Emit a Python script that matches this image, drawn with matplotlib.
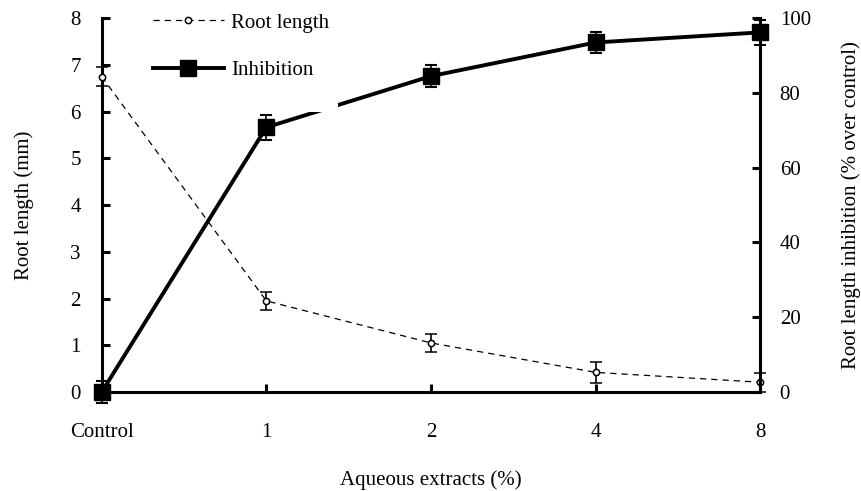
import matplotlib
matplotlib.use("Agg")
import matplotlib.pyplot as plt
from matplotlib.lines import Line2D
from matplotlib.patches import Rectangle

plt.rcParams["font.family"] = ["Liberation Serif", "DejaVu Serif"]

categories = ["Control", "1", "2", "4", "8"]
root_length = [6.75, 1.95, 1.05, 0.42, 0.21]
root_err = [0.2, 0.2, 0.2, 0.22, 0.2]
inhibition = [0.0, 70.8, 84.5, 93.5, 96.2]
inhib_err = [3.0, 3.3, 3.0, 2.8, 3.3]

x = list(range(len(categories)))

fig = plt.figure(figsize=(8.62, 4.91), dpi=100)
ax = fig.add_axes([0.118, 0.2016, 0.764, 0.7614])
ax2 = ax.twinx()

# root length on the left axis
ax.errorbar(x, root_length, yerr=root_err, fmt="o", ls=(0, (5, 4)), lw=0.9,
            color="black", mfc="white", mec="black", ms=4.5, mew=1.1,
            ecolor="black", elinewidth=1.2, capsize=4.5, capthick=1.5,
            clip_on=False, zorder=3)

# inhibition on the right axis
ax2.errorbar(x, inhibition, yerr=inhib_err, fmt="s", ls="-", lw=2.8,
             color="black", ms=11, ecolor="black", elinewidth=1.2,
             capsize=4.5, capthick=1.5, clip_on=False, zorder=3)

ax.set_xlim(0, 4)
ax.set_ylim(0, 8)
ax2.set_ylim(0, 100)
ax.set_xticks(x)
ax.set_xticklabels(categories)
ax.set_yticks(range(0, 9))
ax2.set_yticks(range(0, 101, 20))

for a in (ax, ax2):
    a.spines["top"].set_visible(False)
    for s in ("left", "right", "bottom"):
        a.spines[s].set_linewidth(2.2)
ax.spines["right"].set_visible(False)
ax2.spines["left"].set_visible(False)
ax2.spines["bottom"].set_visible(False)

ax.tick_params(axis="y", direction="in", length=6, width=2.2, labelsize=15, pad=15)
ax.tick_params(axis="x", direction="in", length=6, width=2.2, labelsize=15, pad=22)
ax2.tick_params(axis="y", direction="in", length=6, width=2.2, labelsize=15, pad=14)

ax.set_ylabel("Root length (mm)", fontsize=15, labelpad=26)
ax2.set_ylabel("Root length inhibition (% over control)", fontsize=15, labelpad=22)
ax.set_xlabel("Aqueous extracts (%)", fontsize=15, labelpad=21)

# white legend box area (it hides a bit of the inhibition line, as in the original)
ax2.add_patch(Rectangle((0.073, 0.749), 0.286, 0.30, transform=ax2.transAxes,
                        facecolor="white", edgecolor="none", zorder=8, clip_on=False))

handles = [
    Line2D([], [], color="black", ls=(0, (5, 4)), lw=0.9, marker="o",
           mfc="white", mec="black", ms=4.5, mew=1.1),
    Line2D([], [], color="black", ls="-", lw=2.8, marker="s", ms=11),
]
leg = ax2.legend(handles, ["Root length", "Inhibition"], loc="upper left",
                 bbox_to_anchor=(0.068, 1.03), frameon=False, fontsize=15,
                 handlelength=3.4, handletextpad=0.35, labelspacing=1.35,
                 borderpad=0.3, borderaxespad=0)
leg.set_zorder(10)

fig.savefig("out.png", dpi=100)
